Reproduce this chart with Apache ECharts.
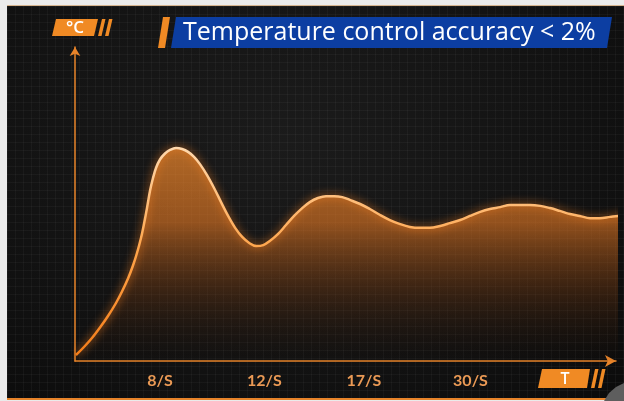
<!DOCTYPE html>
<html>
<head>
<meta charset="utf-8">
<script src="https://cdn.jsdelivr.net/npm/echarts@6/dist/echarts.min.js"></script>
<style>
  html, body { margin: 0; padding: 0; background: #ebebeb; }
  #panel {
    position: absolute; left: 7px; top: 5px; width: 617px; height: 392px;
    border-top: 1px solid #d6b48e; border-bottom: 2px solid #e8842a;
    background:
      linear-gradient(rgba(255,255,255,0.035) 1px, transparent 1px) 0 0 / 8px 8px,
      linear-gradient(90deg, rgba(255,255,255,0.035) 1px, transparent 1px) 0 0 / 8px 8px,
      radial-gradient(ellipse at 45% 35%, #1b1b1b 0%, #131313 55%, #0b0b0b 100%);
  }
  #chart { position: absolute; left: 0; top: 0; width: 624px; height: 401px; }
</style>
</head>
<body>
<div id="panel"></div>
<div id="chart"></div>
<script>
// 曲线数据（横轴0-100为相对时间，纵轴0-100为相对温度）
const curveX = [0.18, 1.66, 3.14, 4.62, 6.10, 7.58, 8.69, 9.80, 10.72, 11.46, 12.20, 12.75, 13.31, 13.86, 14.42, 14.97, 15.71, 16.64, 17.56, 18.67,
  19.8, 20.9, 22.0, 23.1, 24.4, 25.7, 27.0, 28.3, 29.6, 30.9, 32.2, 33.5, 34.8, 36.0, 37.5, 39.0, 40.5, 42.0, 43.4, 44.9, 46.4,
  47.9, 49.4, 50.8, 52.7, 54.5, 56.4, 58.2, 60.1, 61.9, 63.8, 65.6, 67.5, 69.3, 71.2, 73.0, 74.9, 76.7, 78.6, 80.4, 82.3,
  84.1, 86.0, 87.8, 89.6, 91.5, 93.3, 95.2, 97.0, 98.9, 100.4, 101.8];
const curveY = [1.91, 4.46, 7.32, 10.67, 14.33, 18.47, 22.13, 26.27, 30.41, 34.39, 39.17, 43.63, 48.73, 54.14, 58.28, 61.46, 64.17, 66.08, 67.20, 67.83,
  67.5, 66.6, 65.0, 62.7, 59.2, 55.1, 50.6, 46.2, 42.4, 39.5, 37.6, 36.6, 36.9, 38.2, 40.4, 43.3, 46.2, 48.7, 50.6, 51.9, 52.5,
  52.5, 52.2, 51.3, 50.0, 48.4, 46.5, 44.9, 43.6, 42.7, 42.4, 42.4, 43.0, 43.9, 44.9, 46.2, 47.5, 48.4, 49.0, 49.7, 49.7,
  49.7, 49.4, 48.7, 47.8, 46.8, 46.2, 45.5, 45.5, 45.9, 46.2, 46.8];

// 横轴刻度
const xLabels = ['8/S', '12/S', '17/S', '30/S'];
const xLabelPos = [15.7, 35.0, 53.4, 73.1];

const axisColor = '#e8842a';
const badgeColor = '#f08a24';

const chart = echarts.init(document.getElementById('chart'), null, { renderer: 'canvas' });

const option = {
  backgroundColor: 'transparent',
  animation: false,
  grid: { left: 75, right: 8, top: 47, bottom: 40 },
  xAxis: {
    type: 'value',
    min: 0,
    max: 100,
    splitLine: { show: false },
    axisTick: { show: false },
    axisLine: {
      show: true,
      symbol: ['none', 'arrow'],
      symbolSize: [9, 11],
      lineStyle: { color: axisColor, width: 1.5 }
    },
    axisLabel: {
      customValues: xLabelPos,
      margin: 12,
      color: '#eb9a55',
      fontFamily: 'Lato',
      fontWeight: 'bold',
      fontSize: 16,
      formatter: (v) => {
        const i = xLabelPos.findIndex(p => Math.abs(p - v) < 0.01);
        return i >= 0 ? xLabels[i] : '';
      }
    }
  },
  yAxis: {
    type: 'value',
    min: 0,
    max: 100,
    splitLine: { show: false },
    axisTick: { show: false },
    axisLabel: { show: false },
    axisLine: {
      show: true,
      symbol: ['none', 'arrow'],
      symbolSize: [8, 9],
      lineStyle: { color: axisColor, width: 1.5 }
    }
  },
  series: [{
    type: 'line',
    data: curveX.map((x, i) => [x, curveY[i]]),
    smooth: 0.35,
    showSymbol: false,
    clip: false,
    lineStyle: {
      width: 2.5,
      color: new echarts.graphic.LinearGradient(0, 0, 0, 1, [
        { offset: 0, color: '#ffd9ae' },
        { offset: 0.5, color: '#ffa449' },
        { offset: 1, color: '#f47c18' }
      ]),
      shadowColor: 'rgba(255,130,30,0.9)',
      shadowBlur: 8
    },
    areaStyle: {
      color: new echarts.graphic.LinearGradient(0, 0, 0, 1, [
        { offset: 0, color: 'rgba(245,140,45,1)' },
        { offset: 0.35, color: 'rgba(222,118,36,0.9)' },
        { offset: 0.65, color: 'rgba(140,70,20,0.5)' },
        { offset: 1, color: 'rgba(40,20,8,0.05)' }
      ])
    }
  }],
  graphic: [
    // °C 标签
    { type: 'polygon', shape: { points: [[56, 19], [98, 19], [94, 36], [52, 36]] }, style: { fill: badgeColor } },
    { type: 'polygon', shape: { points: [[102, 19], [105.5, 19], [101.5, 36], [98, 36]] }, style: { fill: badgeColor } },
    { type: 'polygon', shape: { points: [[109, 19], [112.5, 19], [108.5, 36], [105, 36]] }, style: { fill: badgeColor } },
    { type: 'text', x: 75, y: 28, style: { text: '°C', fill: '#ffffff', font: '600 17px "Open Sans"', align: 'center', verticalAlign: 'middle' } },
    // 标题
    { type: 'polygon', shape: { points: [[163, 17], [170, 17], [165, 48], [158, 48]] }, style: { fill: badgeColor } },
    { type: 'polygon', shape: { points: [[176, 17], [612, 17], [607, 48], [171, 48]] }, style: { fill: '#0c3ea2' } },
    { type: 'text', x: 183, y: 33, style: { text: 'Temperature control accuracy < 2%', fill: '#ffffff', font: '25px "Open Sans"', verticalAlign: 'middle' } },
    // T 标签
    { type: 'polygon', shape: { points: [[542, 369], [590, 369], [587, 388], [538, 388]] }, style: { fill: badgeColor } },
    { type: 'polygon', shape: { points: [[595, 369], [598.5, 369], [594.5, 388], [591, 388]] }, style: { fill: badgeColor } },
    { type: 'polygon', shape: { points: [[602, 369], [605.5, 369], [601.5, 388], [598, 388]] }, style: { fill: badgeColor } },
    { type: 'text', x: 565, y: 379, style: { text: 'T', fill: '#ffffff', font: '600 16px "Open Sans"', align: 'center', verticalAlign: 'middle' } },
    // 右下角装饰
    { type: 'polygon', shape: { points: [[604, 401], [609, 393], [616, 387], [624, 383], [624, 401]] }, style: { fill: '#5e5e5e' } }
  ]
};

chart.setOption(option);
</script>
</body>
</html>
